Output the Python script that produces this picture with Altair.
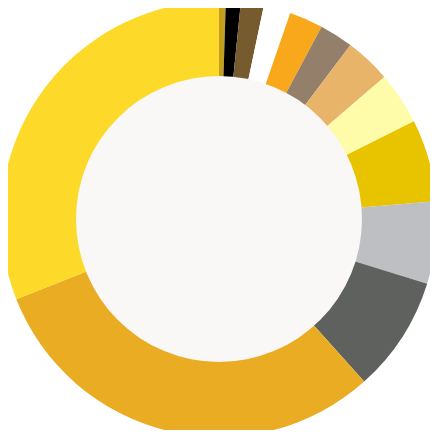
import altair as alt
import pandas as pd

categories = ["A", "B", "C", "D", "E", "F", "G", "H", "I", "J", "K", "L", "M"]
values = [0.5, 1.1, 1.7, 2.0, 2.5, 2.5, 3.4, 3.9, 6.1, 6.1, 8.6, 30.6, 31.0]
colors = ["#c3a11f", "#000000", "#765b2f", "#ffffff", "#f9a81c", "#94806a",
          "#e8b46a", "#fffca9", "#e8c300", "#bdbfc2", "#5f615f", "#e9ac22", "#fdd92a"]

df = pd.DataFrame({"cat": categories, "value": values, "order": list(range(len(categories)))})

CX, CY = 211, 211

ring = alt.Chart(df).mark_arc(innerRadius=142, outerRadius=218).encode(
    theta=alt.Theta("value:Q", stack=True),
    order=alt.Order("order:Q"),
    color=alt.Color("cat:N", scale=alt.Scale(domain=categories, range=colors), legend=None),
    x=alt.value(CX),
    y=alt.value(CY),
)

center = alt.Chart(pd.DataFrame({"v": [1]})).mark_arc(outerRadius=143, color="#f9f8f7").encode(
    theta=alt.Theta("v:Q"),
    x=alt.value(CX),
    y=alt.value(CY),
)

chart = alt.layer(ring, center).resolve_scale(theta="independent").properties(
    width=422, height=422, padding=0, autosize=alt.AutoSizeParams(type="none")
).configure_view(stroke=None)

chart.save("out.html", embed_options={"renderer": "svg", "actions": False})
